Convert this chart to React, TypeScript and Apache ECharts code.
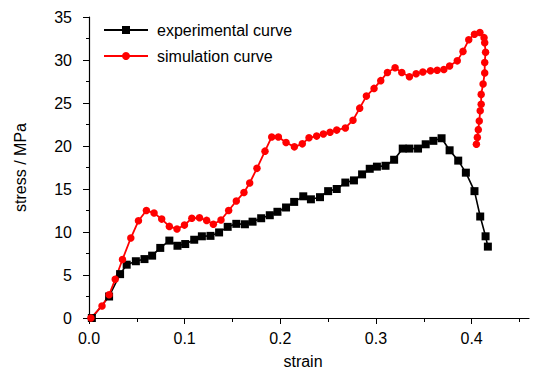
import React, { useEffect, useRef } from "react";
import * as echarts from "echarts";

const experimentalStrain = [0.003, 0.021, 0.0325, 0.0394, 0.049, 0.058, 0.066, 0.0745, 0.084, 0.0925, 0.1006, 0.11, 0.118, 0.127, 0.136, 0.145, 0.154, 0.163, 0.171, 0.18, 0.189, 0.197, 0.206, 0.2145, 0.224, 0.232, 0.2415, 0.25, 0.259, 0.268, 0.277, 0.2855, 0.2935, 0.301, 0.31, 0.319, 0.328, 0.335, 0.344, 0.352, 0.36, 0.3686, 0.377, 0.386, 0.394, 0.403, 0.409, 0.4146, 0.417];
const experimentalStress = [0, 2.5, 5.1, 6.2, 6.6, 6.85, 7.25, 8.15, 9.0, 8.4, 8.6, 9.1, 9.5, 9.55, 9.95, 10.6, 10.95, 10.9, 11.2, 11.6, 11.95, 12.35, 12.85, 13.5, 14.15, 13.8, 14.05, 14.75, 15.0, 15.75, 16.0, 16.7, 17.35, 17.6, 17.7, 18.4, 19.7, 19.7, 19.7, 20.2, 20.6, 20.9, 19.5, 18.3, 16.9, 14.75, 11.8, 9.5, 8.3];

const simulationStrain = [0.002, 0.0136, 0.021, 0.0274, 0.035, 0.0437, 0.0517, 0.06, 0.068, 0.076, 0.084, 0.092, 0.0998, 0.1075, 0.1155, 0.123, 0.13, 0.138, 0.146, 0.154, 0.162, 0.168, 0.1756, 0.184, 0.191, 0.198, 0.206, 0.2147, 0.223, 0.23, 0.238, 0.245, 0.252, 0.259, 0.268, 0.276, 0.283, 0.29, 0.298, 0.305, 0.312, 0.32, 0.327, 0.335, 0.342, 0.349, 0.357, 0.364, 0.371, 0.377, 0.385, 0.391, 0.397, 0.403, 0.4087, 0.413, 0.4137, 0.4146, 0.4137, 0.4137, 0.412, 0.41, 0.41, 0.409, 0.408, 0.407, 0.406, 0.405];
const simulationStress = [0, 1.4, 2.7, 4.5, 6.8, 9.3, 11.3, 12.5, 12.2, 11.5, 10.65, 10.35, 10.8, 11.6, 11.65, 11.35, 10.9, 11.4, 12.5, 13.6, 14.6, 15.7, 17.4, 19.4, 21.05, 21.05, 20.4, 19.9, 20.25, 20.95, 21.15, 21.4, 21.6, 21.85, 22.1, 23.0, 24.4, 25.8, 26.7, 27.6, 28.55, 29.1, 28.55, 28.05, 28.4, 28.6, 28.75, 28.8, 28.9, 29.3, 29.9, 31.0, 32.35, 33.0, 33.2, 32.6, 32.0, 30.9, 29.7, 28.5, 27.2, 26.0, 24.85, 24.1, 22.9, 21.9, 21.0, 20.2];

const xMajorTicks = [0, 0.1, 0.2, 0.3, 0.4];
const xMinorTicks = [0.05, 0.15, 0.25, 0.35, 0.45];
const seriesNames = ["experimental curve", "simulation curve"];

const FONT = "'Liberation Sans', Arial, sans-serif";

export default function App() {
  const ref = useRef<HTMLDivElement>(null);
  useEffect(() => {
    if (!ref.current) return;
    const chart = echarts.init(ref.current, undefined, { renderer: "svg" });
    const expData = experimentalStrain.map((x, i) => [x, experimentalStress[i]]);
    const simData = simulationStrain.map((x, i) => [x, simulationStress[i]]);
    chart.setOption({
      animation: false,
      backgroundColor: "#ffffff",
      textStyle: { fontFamily: FONT },
      grid: { left: 89, right: 5, top: 17, bottom: 51, containLabel: false, outerBoundsMode: "none" },
      legend: {
        orient: "vertical",
        left: 98,
        top: 17,
        itemWidth: 44,
        itemHeight: 10,
        itemGap: 10,
        textStyle: { fontFamily: FONT, fontSize: 16, color: "#000", padding: [0, 0, 0, 4] },
        data: seriesNames,
      },
      xAxis: [
        {
          type: "value",
          min: 0,
          max: 0.46,
          interval: 0.1,
          name: "strain",
          nameLocation: "middle",
          nameGap: 35,
          nameTextStyle: { fontFamily: FONT, fontSize: 16, color: "#000", padding: [0, 12, 0, 0] },
          axisLine: { show: true, onZero: false, lineStyle: { color: "#000", width: 1.2 } },
          axisTick: { show: true, inside: false, length: 6, customValues: xMajorTicks, lineStyle: { color: "#000" } },
          axisLabel: {
            customValues: xMajorTicks,
            margin: 12,
            fontFamily: FONT,
            fontSize: 16,
            color: "#000",
            formatter: (v: number) => v.toFixed(1),
          },
          splitLine: { show: false },
        },
        {
          type: "value",
          min: 0,
          max: 0.46,
          interval: 0.1,
          position: "bottom",
          axisLine: { show: false },
          axisTick: { show: true, inside: false, length: 4, customValues: xMinorTicks, lineStyle: { color: "#000" } },
          axisLabel: { show: false },
          splitLine: { show: false },
        },
      ],
      yAxis: {
        type: "value",
        min: 0,
        max: 35,
        interval: 5,
        name: "stress / MPa",
        nameLocation: "middle",
        nameGap: 61,
        nameTextStyle: { fontFamily: FONT, fontSize: 16, color: "#000" },
        axisLine: { show: true, onZero: false, lineStyle: { color: "#000", width: 1.2 } },
        axisTick: { show: true, inside: false, length: 6, lineStyle: { color: "#000" } },
        minorTick: { show: true, splitNumber: 2, length: 3, lineStyle: { color: "#000" } },
        axisLabel: { margin: 17, fontFamily: FONT, fontSize: 16, color: "#000" },
        splitLine: { show: false },
      },
      series: [
        {
          name: seriesNames[0],
          type: "line",
          data: expData,
          symbol: "rect",
          symbolSize: 8,
          itemStyle: { color: "#000" },
          lineStyle: { color: "#000", width: 1.6 },
        },
        {
          name: seriesNames[1],
          type: "line",
          data: simData,
          symbol: "circle",
          symbolSize: 7.5,
          itemStyle: { color: "#ff0000" },
          lineStyle: { color: "#ff0000", width: 1.8 },
        },
      ],
    });
    return () => chart.dispose();
  }, []);
  return (
    <div
      ref={ref}
      style={{ position: "fixed", left: 0, top: 0, width: 534, height: 369, background: "#fff" }}
    />
  );
}
